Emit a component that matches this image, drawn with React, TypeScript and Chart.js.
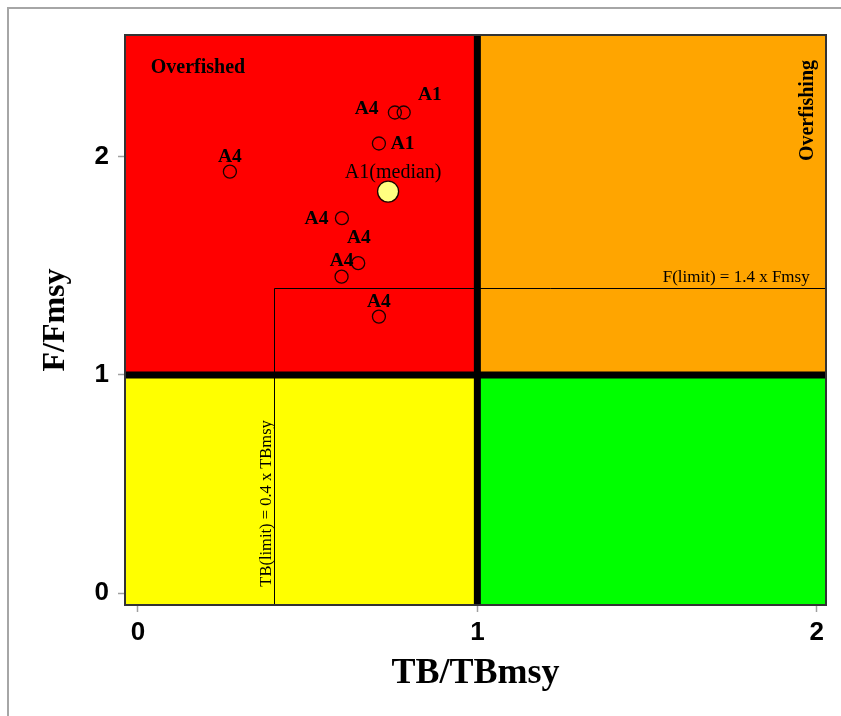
import React, { useEffect, useRef } from "react";
import { Chart, registerables } from "chart.js";

Chart.register(...registerables);

// ---- data ----
const tickValues = [0, 1, 2];
const tbValues = [0.271, 0.757, 0.783, 0.71, 0.601, 0.649, 0.6, 0.71];
const fValues = [1.931, 2.202, 2.202, 2.06, 1.718, 1.512, 1.45, 1.267];
const pointNames = ["A4", "A4", "A1", "A1", "A4", "A4", "A4", "A4"];
const labelTB = [0.271, 0.674, 0.86, 0.78, 0.526, 0.651, 0.6, 0.71];
const labelF = [2.0, 2.219, 2.283, 2.06, 1.713, 1.626, 1.522, 1.336];
const medianTB = [0.737];
const medianF = [1.84];
const medianName = "A1(median)";
const medianLabelTB = 0.752;
const medianLabelF = 1.927;
const tbLimit = 0.4;
const fLimit = 1.4;
const refLine = 1;
const xMin = -0.038;
const xMax = 2.027;
const yMin = -0.054;
const yMax = 2.557;

const serif = '"Liberation Serif", "Times New Roman", serif';
const sans = '"Liberation Sans", Arial, sans-serif';

const quadrantPlugin = {
  id: "quadrants",
  beforeDatasetsDraw(chart: any) {
    const { ctx, chartArea, scales } = chart;
    const { left, right, top, bottom } = chartArea;
    const x = scales.x;
    const y = scales.y;
    const xr = x.getPixelForValue(refLine);
    const yr = y.getPixelForValue(refLine);
    ctx.save();
    ctx.fillStyle = "#FF0000";
    ctx.fillRect(left, top, xr - left, yr - top);
    ctx.fillStyle = "#FFA500";
    ctx.fillRect(xr, top, right - xr, yr - top);
    ctx.fillStyle = "#FFFF00";
    ctx.fillRect(left, yr, xr - left, bottom - yr);
    ctx.fillStyle = "#00FF00";
    ctx.fillRect(xr, yr, right - xr, bottom - yr);

    // limit lines
    const xl = x.getPixelForValue(tbLimit);
    const yl = y.getPixelForValue(fLimit);
    ctx.strokeStyle = "#000";
    ctx.lineWidth = 1;
    ctx.beginPath();
    ctx.moveTo(Math.round(xl) + 0.5, bottom);
    ctx.lineTo(Math.round(xl) + 0.5, Math.round(yl) + 0.5);
    ctx.lineTo(right, Math.round(yl) + 0.5);
    ctx.stroke();

    // thick reference lines
    ctx.lineWidth = 7;
    ctx.beginPath();
    ctx.moveTo(xr, top);
    ctx.lineTo(xr, bottom);
    ctx.moveTo(left, yr);
    ctx.lineTo(right, yr);
    ctx.stroke();

    // border
    ctx.lineWidth = 2;
    ctx.strokeStyle = "#333";
    ctx.strokeRect(left, top, right - left, bottom - top);

    // annotations
    ctx.fillStyle = "#000";
    ctx.font = `bold 20px ${serif}`;
    ctx.textAlign = "center";
    ctx.textBaseline = "middle";
    ctx.fillText("Overfished", x.getPixelForValue(0.177), y.getPixelForValue(2.408));

    ctx.save();
    ctx.translate(x.getPixelForValue(1.973), y.getPixelForValue(2.211));
    ctx.rotate(-Math.PI / 2);
    ctx.font = `bold 20px ${serif}`;
    ctx.fillText("Overfishing", 0, 0);
    ctx.restore();

    ctx.font = `17px ${serif}`;
    ctx.textAlign = "right";
    ctx.textBaseline = "alphabetic";
    ctx.fillText("F(limit) = 1.4 x Fmsy", x.getPixelForValue(1.979), yl - 6);

    ctx.save();
    ctx.translate(xl - 3, y.getPixelForValue(0.03));
    ctx.rotate(-Math.PI / 2);
    ctx.font = `16.5px ${serif}`;
    ctx.textAlign = "left";
    ctx.textBaseline = "alphabetic";
    ctx.fillText("TB(limit) = 0.4 x TBmsy", 0, 0);
    ctx.restore();

    ctx.restore();
  },
  afterDatasetsDraw(chart: any) {
    const { ctx, scales } = chart;
    const x = scales.x;
    const y = scales.y;
    ctx.save();
    ctx.fillStyle = "#000";
    ctx.textAlign = "center";
    ctx.textBaseline = "middle";
    ctx.font = `bold 19.5px ${serif}`;
    pointNames.forEach((name, i) => {
      ctx.fillText(name, x.getPixelForValue(labelTB[i]), y.getPixelForValue(labelF[i]));
    });
    ctx.font = `20px ${serif}`;
    ctx.fillText(medianName, x.getPixelForValue(medianLabelTB), y.getPixelForValue(medianLabelF));
    ctx.restore();
  },
};

export default function App() {
  const canvasRef = useRef<HTMLCanvasElement | null>(null);

  useEffect(() => {
    const canvas = canvasRef.current;
    if (!canvas) return;
    const chart = new Chart(canvas, {
      type: "scatter",
      data: {
        datasets: [
          {
            label: "years",
            data: tbValues.map((v, i) => ({ x: v, y: fValues[i] })),
            pointRadius: 6.5,
            pointHoverRadius: 6.5,
            borderColor: "#1a0000",
            borderWidth: 1.3,
            backgroundColor: "rgba(0,0,0,0)",
          },
          {
            label: "median",
            data: medianTB.map((v, i) => ({ x: v, y: medianF[i] })),
            pointRadius: 10.5,
            pointHoverRadius: 10.5,
            borderColor: "#1a0000",
            borderWidth: 1.3,
            backgroundColor: "#FFFF80",
          },
        ],
      },
      options: {
        animation: false,
        responsive: false,
        maintainAspectRatio: false,
        events: [],
        layout: { padding: { top: 35, right: 15, left: 0, bottom: 0 } },
        plugins: {
          legend: { display: false },
          tooltip: { enabled: false },
        },
        scales: {
          x: {
            type: "linear",
            min: xMin,
            max: xMax,
            afterBuildTicks: (scale: any) => {
              scale.ticks = tickValues.map((v) => ({ value: v }));
            },
            afterFit: (scale: any) => {
              scale.height = 111;
            },
            border: { display: false },
            grid: {
              drawOnChartArea: false,
              drawTicks: true,
              tickLength: 7,
              tickColor: "#a0a0a0",
              tickWidth: 1.5,
            },
            ticks: {
              padding: 5,
              color: "#000",
              font: { family: sans, size: 26, weight: "bold" },
              callback: (v: any) => String(v),
            },
            title: {
              display: true,
              text: "TB/TBmsy",
              color: "#000",
              font: { family: serif, size: 36, weight: "bold", lineHeight: 1.2 },
              padding: { top: 0, bottom: 21 },
            },
          },
          y: {
            type: "linear",
            min: yMin,
            max: yMax,
            afterBuildTicks: (scale: any) => {
              scale.ticks = tickValues.map((v) => ({ value: v }));
            },
            afterFit: (scale: any) => {
              scale.width = 125;
            },
            border: { display: false },
            grid: {
              drawOnChartArea: false,
              drawTicks: true,
              tickLength: 7,
              tickColor: "#a0a0a0",
              tickWidth: 1.5,
            },
            ticks: {
              padding: 9,
              color: "#000",
              font: { family: sans, size: 26, weight: "bold" },
              callback: (v: any) => String(v),
            },
            title: {
              display: true,
              text: "F/Fmsy",
              color: "#000",
              font: { family: serif, size: 32, weight: "bold", lineHeight: 1.2 },
              padding: { top: 37, bottom: 0 },
            },
          },
        },
      },
      plugins: [quadrantPlugin],
    });
    return () => chart.destroy();
  }, []);

  return (
    <div>
      <div
        style={{
          position: "absolute",
          left: 7,
          top: 7,
          width: 832,
          height: 707,
          borderTop: "2px solid #a6a6a6",
          borderLeft: "2px solid #a6a6a6",
        }}
      />
      <canvas
        ref={canvasRef}
        width={841}
        height={716}
        style={{ position: "absolute", left: 0, top: 0, width: 841, height: 716 }}
      />
    </div>
  );
}
